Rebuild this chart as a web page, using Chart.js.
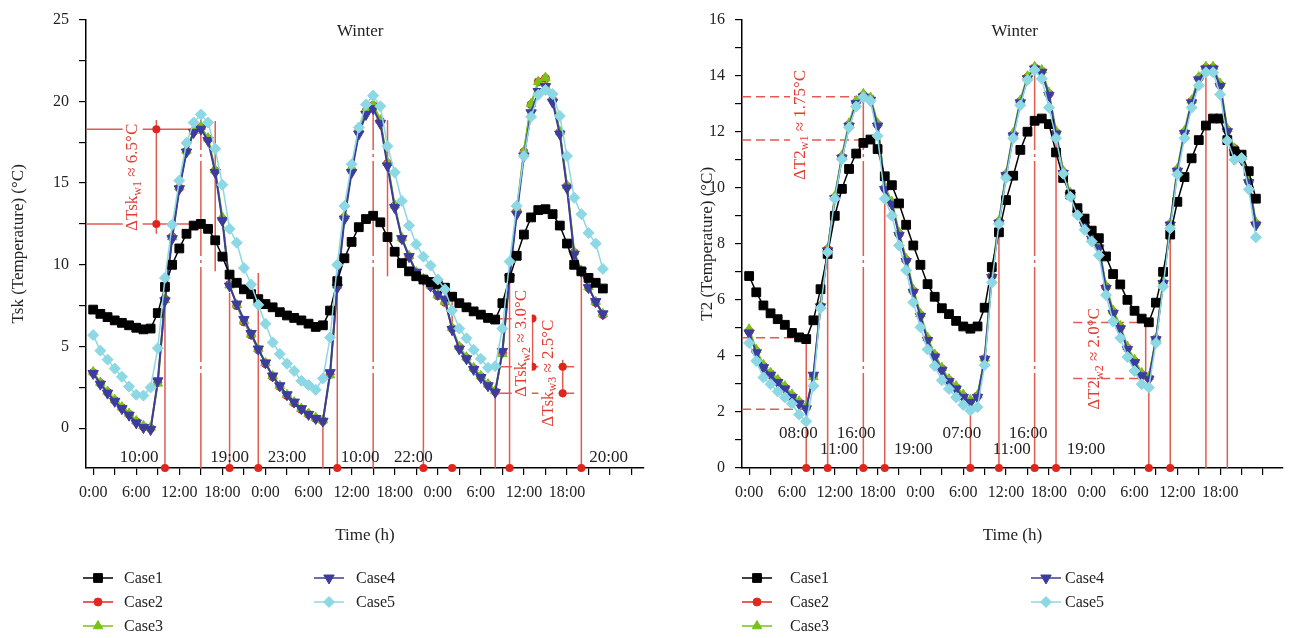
<!DOCTYPE html>
<html>
<head>
<meta charset="utf-8">
<script src="https://cdn.jsdelivr.net/npm/chart.js@4.4.0/dist/chart.umd.min.js"></script>
<style>
  body { margin: 0; background: #fff; }
  .panel { position: absolute; top: 0; width: 651px; height: 638px; }
</style>
</head>
<body>
<div class="panel" style="left:0"><canvas id="tskChart"></canvas></div>
<div class="panel" style="left:651px"><canvas id="t2Chart"></canvas></div>
<script>
// data block
const hours = Array.from({ length: 72 }, (_, i) => i);
const caseNames = ['Case1', 'Case2', 'Case3', 'Case4', 'Case5'];

// left panel: Tsk (°C)
const tskCase1 = [7.26,7.0,6.8,6.6,6.45,6.3,6.15,6.05,6.1,7.05,8.65,10.0,
  11.0,11.9,12.4,12.5,12.2,11.5,10.5,9.4,8.9,8.5,8.2,7.9,
  7.6,7.4,7.1,6.9,6.75,6.6,6.4,6.2,6.3,7.2,9.0,10.4,
  11.4,12.3,12.8,13.0,12.6,11.7,10.8,10.1,9.6,9.3,9.1,8.95,
  8.8,8.6,8.05,7.65,7.4,7.15,6.95,6.75,6.65,7.65,9.2,10.55,
  11.85,12.9,13.35,13.4,13.1,12.4,11.3,10.0,9.6,9.2,8.9,8.55];
const tskCase2 = [3.4,2.75,2.2,1.7,1.25,0.85,0.4,0.1,0.0,2.8,7.9,11.7,
  14.7,16.95,18.15,18.4,17.7,15.75,12.8,8.8,7.5,6.5,5.7,4.8,
  3.95,3.15,2.55,2.0,1.55,1.15,0.85,0.6,0.45,3.3,8.7,12.9,
  15.8,18.2,19.4,19.75,18.8,16.2,13.6,11.6,10.5,9.5,9.1,8.7,
  8.1,7.7,6.1,4.95,4.3,3.65,3.15,2.65,2.25,4.6,9.3,13.3,
  16.9,19.8,21.2,21.4,20.1,18.1,14.8,10.75,9.6,8.6,7.7,6.95];
const tskCase3 = [3.45,2.8,2.25,1.75,1.3,0.9,0.45,0.15,0.05,2.75,7.85,11.7,
  14.75,17.0,18.2,18.45,17.75,15.8,12.9,8.75,7.55,6.55,5.75,4.85,
  4.0,3.2,2.6,2.05,1.6,1.2,0.9,0.65,0.5,3.25,8.75,13.0,
  15.9,18.3,19.5,19.8,18.85,16.25,13.65,11.65,10.55,9.55,9.15,8.75,
  8.15,7.75,6.15,5.0,4.35,3.7,3.2,2.7,2.3,4.55,9.35,13.35,
  16.95,19.85,21.2,21.45,20.2,18.15,14.85,10.8,9.65,8.65,7.75,7.0];
const tskCase4 = [3.35,2.7,2.15,1.65,1.2,0.8,0.33,0.04,-0.08,2.9,7.8,11.6,
  14.65,16.9,18.1,18.3,17.6,15.65,12.7,8.7,7.6,6.65,5.8,4.85,
  4.0,3.2,2.6,2.05,1.6,1.2,0.85,0.6,0.43,3.4,8.6,12.8,
  15.65,18.0,19.2,19.55,18.65,16.05,13.5,11.6,10.5,9.55,9.1,8.7,
  8.2,7.9,6.05,4.85,4.25,3.6,3.1,2.6,2.2,4.7,9.2,13.1,
  16.65,19.3,20.6,20.9,19.95,18.0,14.7,10.65,9.6,8.6,7.75,7.0];
const tskCase5 = [5.7,4.75,4.2,3.65,3.15,2.55,2.05,2.0,2.5,4.9,9.2,12.45,
  15.15,17.45,18.7,19.2,18.7,17.1,14.9,12.2,11.35,9.8,8.8,7.55,
  6.4,5.25,4.55,3.95,3.5,2.9,2.65,2.35,3.05,5.55,10.0,13.6,
  16.15,18.4,19.8,20.35,19.7,17.25,15.65,13.9,12.4,11.25,10.5,9.95,
  9.1,8.5,7.2,6.1,5.5,4.8,4.25,3.7,3.8,6.1,10.2,13.6,
  16.65,19.05,20.4,20.7,20.45,19.1,16.65,14.1,13.1,11.95,11.3,9.75];

// right panel: T2 (°C)
const t2Case1 = [6.85,6.27,5.8,5.52,5.31,5.11,4.82,4.66,4.6,5.27,6.38,7.64,
  9.0,9.96,10.67,11.22,11.6,11.72,11.38,10.41,10.09,9.44,8.68,7.94,
  7.25,6.56,6.11,5.7,5.49,5.25,5.05,4.97,5.05,5.72,7.17,8.41,
  9.56,10.43,11.35,12.0,12.39,12.47,12.27,11.26,10.35,9.76,9.27,8.9,
  8.47,8.2,7.55,6.92,6.55,6.0,5.61,5.33,5.2,5.9,7.0,8.33,
  9.5,10.38,11.05,11.7,12.22,12.47,12.47,11.7,11.3,11.18,10.59,9.61];
const t2Case2 = [4.88,4.16,3.63,3.36,3.1,2.87,2.57,2.34,2.16,3.28,5.78,7.8,
  9.65,11.1,12.25,13.05,13.3,13.18,12.25,9.98,9.45,8.35,7.42,6.32,
  5.46,4.6,4.01,3.54,3.13,2.87,2.57,2.39,2.57,3.9,6.85,8.78,
  10.47,11.9,13.08,13.94,14.28,14.16,13.35,11.97,10.55,9.77,9.1,8.69,
  8.21,7.9,6.46,5.57,5.02,4.28,3.81,3.34,3.22,4.6,6.62,8.7,
  10.63,11.98,13.08,13.9,14.28,14.28,13.67,12.05,11.4,11.05,10.22,8.72];
const t2Case3 = [4.95,4.22,3.68,3.4,3.15,2.92,2.62,2.38,2.2,3.25,5.8,7.82,
  9.7,11.15,12.3,13.1,13.35,13.22,12.3,10.05,9.5,8.4,7.47,6.37,
  5.5,4.65,4.05,3.58,3.17,2.92,2.62,2.43,2.6,3.92,6.9,8.82,
  10.5,11.95,13.12,13.98,14.32,14.2,13.4,12.02,10.6,9.82,9.15,8.74,
  8.26,7.95,6.5,5.62,5.07,4.33,3.86,3.39,3.26,4.62,6.66,8.74,
  10.68,12.03,13.12,13.95,14.32,14.32,13.72,12.1,11.4,11.1,10.27,8.77];
const t2Case4 = [4.82,4.11,3.58,3.31,3.05,2.82,2.52,2.29,2.11,3.31,5.75,7.75,
  9.61,11.06,12.2,13.0,13.24,13.12,12.2,9.94,9.41,8.3,7.37,6.27,
  5.41,4.55,3.96,3.49,3.08,2.82,2.52,2.34,2.52,3.88,6.8,8.74,
  10.43,11.85,13.03,13.89,14.24,14.12,13.3,11.92,10.51,9.73,9.06,8.65,
  8.17,7.85,6.41,5.52,4.97,4.23,3.76,3.29,3.17,4.58,6.58,8.67,
  10.59,11.94,13.03,13.85,14.24,14.24,13.62,12.0,11.26,11.0,10.18,8.67];
const t2Case5 = [4.46,3.82,3.23,2.99,2.73,2.52,2.29,1.91,1.66,2.93,5.7,7.7,
  9.61,11.02,12.15,12.9,13.23,13.1,11.85,9.61,9.0,7.94,7.06,5.91,
  5.02,4.23,3.64,3.13,2.82,2.52,2.25,2.05,2.17,3.67,6.62,8.71,
  10.35,11.77,12.94,13.85,14.2,13.89,12.86,11.77,10.5,9.68,9.02,8.5,
  8.08,7.59,6.17,5.23,4.64,3.96,3.46,2.99,2.87,4.46,6.47,8.55,
  10.47,11.77,12.86,13.65,14.12,14.12,13.33,11.68,11.0,11.06,9.94,8.23];

// axis ticks
const xTicksL = [0,3,6,9,12,15,18,21,24,27,30,33,36,39,42,45,48,51,54,57,60,63,66,69,72,75];
const xTicksR = [0,3,6,9,12,15,18,21,24,27,30,33,36,39,42,45,48,51,54,57,60,63,66,69,72];
const yTicksL = [0,2.5,5,7.5,10,12.5,15,17.5,20,22.5,25];
const yTicksR = [0,1,2,3,4,5,6,7,8,9,10,11,12,13,14,15,16];

// red markers: [hour, from (null = axis), to (null = dot only), dashed, dot on axis]
const marksL = [[10,null,7.8,0,1],[15,null,19.1,1,0],[17,9.6,18.8,0,0],[19,null,8.3,0,1],
  [23,null,9.5,0,1],[32,null,0.06,0,0],[34,null,9.0,0,1],[39,null,20.25,1,0],[41,9.3,18.85,0,0],
  [46,null,8.85,0,1],[49,7.45,8.2,0,0],[50,5.65,8.05,0,1],[56,null,2.18,0,0],[58,null,9.4,0,1],[68,null,9.6,0,1]];
const marksR = [[8,null,4.64,0,1],[11,null,7.8,0,1],[16,null,13.1,1,1],[19,null,9.59,0,1],
  [31,null,1.94,0,1],[35,null,8.5,0,1],[40,null,14.18,1,1],[43,null,11.7,0,1],
  [56,null,3.18,0,1],[59,null,8.5,0,1],[64,null,14.18,0,0],[67,null,11.6,0,0]];
// horizontal guides: [value, fromHour, toHour, dashed]
const guidesL = [[18.3,-1,15,0],[12.5,-1,15,0],[6.7,55.7,61.2,0],[3.76,54.8,67,0],[2.14,56,67,0]];
const guidesR = [[13.25,-1,16,1],[11.7,-1,16,1],[4.65,-1,8,1],[2.1,-1,8,1],[5.19,45.4,55.56,1],[3.19,45.4,55.56,1]];
// brackets: [hour, from, to, dot values]
const bracketsL = [[8.8,11.9,18.85,[18.3,12.5]],[61.2,3.76,6.72,[6.72,3.76]],[65.4,1.88,4.19,[3.76,2.14]]];
const bracketsR = [[55.56,3.19,5.19,[]]];
// rotated delta labels: [hour, value, main, sub, rest, white box]
const deltasL = [[5.5,15.35,'ΔTsk','w1',' ≈ 6.5°C',1],[59.7,5.19,'ΔTsk','w2',' ≈ 3.0°C',1],[63.4,3.37,'ΔTsk','w3',' ≈ 2.5°C',1]];
const deltasR = [[7.14,12.24,'ΔT2','w1',' ≈ 1.75°C',1],[48.46,3.89,'ΔT2','w2',' ≈ 2.0°C',0]];
// time labels: [text, hour, value]
const timesL = [['10:00',6.4,-1.82],['19:00',19.0,-1.82],['23:00',27.0,-1.82],['10:00',37.2,-1.82],['22:00',44.6,-1.82],['20:00',71.8,-1.82]];
const timesR = [['08:00',6.9,1.24],['11:00',12.6,0.67],['16:00',15.0,1.24],['19:00',23.0,0.67],
  ['07:00',29.8,1.24],['11:00',36.8,0.67],['16:00',39.1,1.24],['19:00',47.2,0.67]];

// style block
const SERIF = '"Liberation Serif", "DejaVu Serif", serif';
const RED_LINE = '#e35a50';
const RED_DOT = '#e0261c';
const RED_TEXT = '#e23c32';
const styles = [
  { color: '#000000', pointStyle: 'rect', radius: 6.2, rotation: 0, width: 1.5, order: 2 },
  { color: '#e2291e', pointStyle: 'circle', radius: 4, rotation: 0, width: 1.5, order: 5 },
  { color: '#78c21a', pointStyle: 'triangle', radius: 5.5, rotation: 0, width: 2, order: 4 },
  { color: '#3c3c9e', pointStyle: 'triangle', radius: 6, rotation: 180, width: 2, order: 3 },
  { color: '#8cd8e4', pointStyle: 'rectRot', radius: 5.5, rotation: 0, width: 1.5, order: 1 }
];

function buildDatasets(series) {
  return series.map((vals, i) => ({
    label: caseNames[i],
    data: hours.map((h, k) => ({ x: h, y: vals[k] })),
    borderColor: styles[i].color,
    backgroundColor: styles[i].color,
    borderWidth: styles[i].width,
    pointStyle: styles[i].pointStyle,
    pointRadius: styles[i].radius,
    pointRotation: styles[i].rotation,
    pointBorderWidth: 1,
    tension: 0,
    order: styles[i].order
  }));
}

function marker(ctx, st, x, y) {
  const r = st.radius;
  ctx.beginPath();
  if (st.pointStyle === 'rect') {
    const s = r * Math.SQRT1_2;
    ctx.rect(x - s, y - s, 2 * s, 2 * s);
  } else if (st.pointStyle === 'circle') {
    ctx.arc(x, y, r, 0, Math.PI * 2);
  } else if (st.pointStyle === 'rectRot') {
    ctx.moveTo(x, y - r); ctx.lineTo(x + r, y); ctx.lineTo(x, y + r); ctx.lineTo(x - r, y); ctx.closePath();
  } else {
    let a = st.rotation * Math.PI / 180;
    for (let k = 0; k < 3; k++) {
      const px = x + Math.sin(a) * r, py = y - Math.cos(a) * r;
      if (k) ctx.lineTo(px, py); else ctx.moveTo(px, py);
      a += 2 * Math.PI / 3;
    }
    ctx.closePath();
  }
  ctx.fill();
  ctx.stroke();
}

function rotText(ctx, x, y, main, sub, rest, box) {
  const f1 = '17px ' + SERIF, f2 = '12px ' + SERIF;
  ctx.save();
  ctx.translate(x, y);
  ctx.rotate(-Math.PI / 2);
  ctx.font = f1;
  const w1 = ctx.measureText(main).width, w3 = ctx.measureText(rest).width;
  ctx.font = f2;
  const w2 = ctx.measureText(sub).width;
  const W = w1 + w2 + w3;
  if (box) { ctx.fillStyle = '#fff'; ctx.fillRect(-W / 2 - 2, -10, W + 4, 20); }
  ctx.fillStyle = RED_TEXT;
  ctx.textBaseline = 'middle';
  ctx.textAlign = 'left';
  let sx = -W / 2;
  ctx.font = f1; ctx.fillText(main, sx, 0); sx += w1;
  ctx.font = f2; ctx.fillText(sub, sx, 5); sx += w2;
  ctx.font = f1; ctx.fillText(rest, sx, 0);
  ctx.restore();
}

function annoPlugin(cfg) {
  return {
    id: 'anno',
    beforeDatasetsDraw(chart) {
      const { ctx, chartArea } = chart;
      const X = h => chart.scales.x.getPixelForValue(h);
      const Y = v => chart.scales.y.getPixelForValue(v);
      ctx.save();
      ctx.strokeStyle = RED_LINE;
      ctx.lineWidth = 1.5;
      cfg.marks.forEach(([h, from, to, dashed]) => {
        if (to === null) return;
        ctx.setLineDash(dashed ? [95, 4, 3, 4] : []);
        ctx.beginPath();
        ctx.moveTo(X(h), from === null ? chartArea.bottom : Y(from));
        ctx.lineTo(X(h), Y(to));
        ctx.stroke();
      });
      cfg.guides.forEach(([v, h0, h1, dashed]) => {
        ctx.setLineDash(dashed ? [9, 5] : []);
        ctx.beginPath();
        ctx.moveTo(X(h0), Y(v));
        ctx.lineTo(X(h1), Y(v));
        ctx.stroke();
      });
      ctx.setLineDash([]);
      cfg.brackets.forEach(([h, v0, v1, dots]) => {
        ctx.beginPath();
        ctx.moveTo(X(h), Y(v0));
        ctx.lineTo(X(h), Y(v1));
        ctx.stroke();
        ctx.fillStyle = RED_DOT;
        dots.forEach(v => { ctx.beginPath(); ctx.arc(X(h), Y(v), 4, 0, Math.PI * 2); ctx.fill(); });
      });
      cfg.deltas.forEach(([h, v, a, b, c, box]) => rotText(ctx, X(h), Y(v), a, b, c, box));
      ctx.fillStyle = '#222';
      ctx.font = '17px ' + SERIF;
      ctx.textAlign = 'center';
      ctx.textBaseline = 'middle';
      cfg.times.forEach(([t, h, v]) => ctx.fillText(t, X(h), Y(v)));
      ctx.fillText('Winter', X(37.2), cfg.titleY);
      ctx.restore();
    },
    afterDraw(chart) {
      const { ctx, chartArea } = chart;
      const X = h => chart.scales.x.getPixelForValue(h);
      ctx.save();
      ctx.fillStyle = RED_DOT;
      cfg.marks.forEach(([h, , , , dot]) => {
        if (!dot) return;
        ctx.beginPath();
        ctx.arc(X(h), chartArea.bottom, 4, 0, Math.PI * 2);
        ctx.fill();
      });
      // legend, two columns
      ctx.font = '16px ' + SERIF;
      ctx.textBaseline = 'middle';
      ctx.textAlign = 'left';
      caseNames.forEach((name, i) => {
        const col = i < 3 ? 0 : 1;
        const row = i < 3 ? i : i - 3;
        const y = cfg.legendRows[row];
        const x0 = cfg.legendCols[col][0];
        const st = styles[i];
        ctx.strokeStyle = st.color;
        ctx.fillStyle = st.color;
        ctx.lineWidth = 1.5;
        ctx.beginPath();
        ctx.moveTo(x0, y);
        ctx.lineTo(x0 + 30, y);
        ctx.stroke();
        ctx.lineWidth = 1;
        marker(ctx, st, x0 + 15, y);
        ctx.fillStyle = '#222';
        ctx.fillText(name, cfg.legendCols[col][1], y + 1);
      });
      ctx.restore();
    }
  };
}

function axes(o) {
  const tickFont = { family: SERIF, size: 16 };
  return {
    x: {
      type: 'linear', min: -1, max: o.xmax,
      afterBuildTicks: s => { s.ticks = o.xticks.map(v => ({ value: v })); },
      ticks: {
        autoSkip: false, maxRotation: 0, padding: 8, color: '#222', font: tickFont,
        callback: v => (v % 6 === 0 && v <= 66) ? (v % 24) + ':00' : ''
      },
      grid: { drawOnChartArea: false, tickLength: 7, color: '#000', lineWidth: 1.2 },
      border: { color: '#000', width: 1.5 },
      title: { display: true, text: 'Time (h)', color: '#222', font: { family: SERIF, size: 17 }, padding: { top: 0, bottom: 92 } },
      afterFit: s => { s.height = 170; }
    },
    y: {
      type: 'linear', min: o.ymin, max: o.ymax,
      afterBuildTicks: s => { s.ticks = o.yticks.map(v => ({ value: v })); },
      ticks: {
        autoSkip: false, padding: 10, color: '#222', font: tickFont,
        callback: v => (v % o.ylab === 0) ? v : ''
      },
      grid: { drawOnChartArea: false, tickLength: 7, color: '#000', lineWidth: 1.2 },
      border: { color: '#000', width: 1.5 },
      title: { display: true, text: o.ytitle, color: '#222', font: { family: SERIF, size: 17 }, padding: { top: o.ytitlePad, bottom: 0 } },
      afterFit: s => { s.width = o.ywidth; }
    }
  };
}

function makeConfig(series, o, anno) {
  return {
    type: 'line',
    data: { datasets: buildDatasets(series) },
    options: {
      responsive: true,
      maintainAspectRatio: false,
      animation: false,
      layout: { padding: { top: o.padTop, right: o.padRight, left: 0, bottom: 0 } },
      scales: axes(o),
      plugins: { legend: { display: false }, tooltip: { enabled: false } }
    },
    plugins: [annoPlugin(anno)]
  };
}

// init render block
new Chart(document.getElementById('tskChart'), makeConfig(
  [tskCase1, tskCase2, tskCase3, tskCase4, tskCase5],
  { xmax: 76.7, xticks: xTicksL, ymin: -2.43, ymax: 25, yticks: yTicksL, ylab: 5,
    ytitle: 'Tsk (Temperature) (°C)', ytitlePad: 8, ywidth: 86, padTop: 16, padRight: 7 },
  { marks: marksL, guides: guidesL, brackets: bracketsL, deltas: deltasL, times: timesL, titleY: 32,
    legendRows: [578, 602, 626], legendCols: [[83, 124], [314, 356]] }
));

new Chart(document.getElementById('t2Chart'), makeConfig(
  [t2Case1, t2Case2, t2Case3, t2Case4, t2Case5],
  { xmax: 74.8, xticks: xTicksR, ymin: 0, ymax: 16, yticks: yTicksR, ylab: 2,
    ytitle: 'T2 (Temperature) (°C)', ytitlePad: 46, ywidth: 91, padTop: 16, padRight: 19 },
  { marks: marksR, guides: guidesR, brackets: bracketsR, deltas: deltasR, times: timesR, titleY: 32,
    legendRows: [578, 602, 626], legendCols: [[91, 139], [380, 414]] }
));
</script>
</body>
</html>
